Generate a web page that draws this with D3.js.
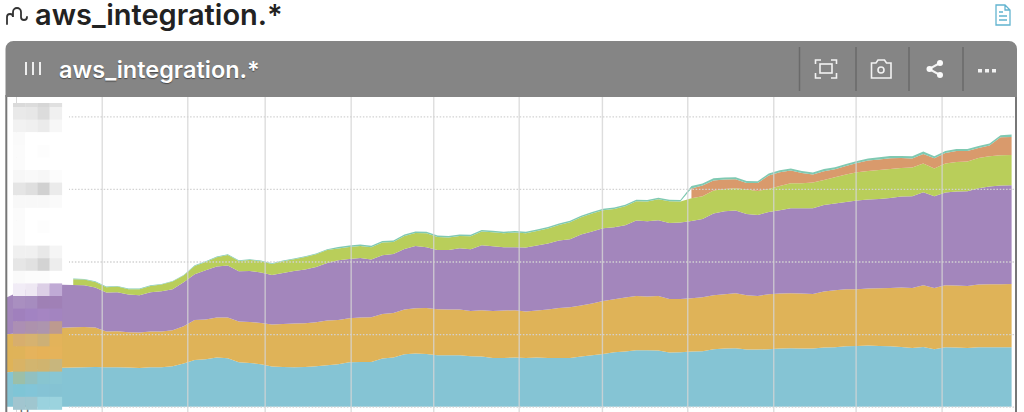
<!DOCTYPE html>
<html><head><meta charset="utf-8">
<script src="https://cdnjs.cloudflare.com/ajax/libs/d3/7.8.5/d3.min.js"></script>
<style>html,body{margin:0;padding:0;background:#fff;overflow:hidden}svg{display:block}text{font-family:Inter,"Open Sans",sans-serif}</style>
</head><body><svg id="c" width="1024" height="412"></svg>
<script>
const titleText = "aws_integration.*";
const blueVals = [34.5,35.5,36.5,37.5,38.5,39,39.2,39.5,39.8,39.5,39.5,39.2,38.8,39.5,39.5,40.5,43.2,46.8,47.5,49.2,48.5,44.5,43.8,42.5,40.2,39.8,39.5,39.8,40.5,41.5,42.5,44.5,44.8,44.8,48.2,49.2,52.5,53.2,52.8,51.5,51.5,51.5,50.5,50.2,48.8,48.8,49.2,48.8,49.2,48.8,48.8,48.8,50.2,51.5,52.8,54.5,55.2,56.5,56.5,56.2,54.2,54.5,55.2,55.5,57.5,58.2,58.5,57.2,57.2,57.5,58.2,58.5,58.2,58.2,59.2,59.5,60.5,60.8,61.2,60.8,60.5,59.8,58.8,59.8,57.5,59.5,59.2,58.8,59.5,59.5,59.5,59.5];
const orangeVals = [38,38,39,39,39.5,40,40.3,40.3,39.4,35.7,36,35.3,35.4,35.7,35.7,36,37.3,40,39.7,40,40.7,40.7,41,41.3,42,43,43.7,43.7,44,44.7,44.3,44,44.4,44.7,44.6,44.6,44.7,45.3,46,46,45.7,45.7,45.3,46.3,47,47.4,47.3,46.4,47,48.4,50,50.7,51,51.7,53,53,54,54.3,53.7,54.6,53.6,53.3,53.3,54,54,54.3,55,54.3,53.6,55,55,55,55,54.6,56,57,57,56.7,57,57.7,58.3,59.4,60,61.7,61.3,62,62,62,62.7,63,63,63.3];
const purpleVals = [37,41,43,44,43.5,43,42.3,41.7,40,39,39,37.7,37.3,39.3,40.3,41,44,45.7,49.3,51,52,50.3,51,50.4,49.6,51,52.6,53.7,55.3,57.6,59.7,59.3,59.6,57.7,58.7,59,60.6,62.3,60.7,59.3,59.6,61.3,61.7,65,64.7,63.3,63,64,65,66,67.4,68,71,72,72.7,72,72.3,75.4,75.3,75.7,76,76.4,77.3,78.3,81.7,83,82.7,81.3,81,82.3,83.3,85,85.3,85.7,86.6,86.7,87.3,88.7,89,89.3,90,91,91.7,93,91.7,92.7,94,94.7,96.3,97.7,98.7,98.7];
const greenVals = [null,null,null,null,null,null,5.7,5.7,5.6,5.3,5.7,5.3,6,6.3,6.7,7.7,6.7,8.3,8.3,9.3,10.6,10.3,11,11.3,11,11.7,11.7,12.6,12.7,13,11.7,12,12,12.3,12.7,12,13,13,14,13,12.4,12.3,13,13.7,14,14,14.7,14.3,14.6,15,15.6,17,17.3,18,18,18.3,19,19.3,19.7,21,21.7,21,22.7,22.7,23,22.3,22.3,24.4,24,23,24.3,25,25,25.7,25,26.3,27.4,28.3,28.6,29,29,28.6,28.7,28.7,27.7,29,29.6,29.7,30.3,30.3,30.3,30.3];
const salmonVals = [null,null,null,null,null,null,null,null,null,null,null,null,null,null,null,null,null,null,null,null,null,null,null,null,null,null,null,null,null,null,null,null,null,null,null,null,null,null,null,null,null,null,null,null,null,null,null,null,null,null,null,null,null,null,null,null,null,null,null,null,null,null,9.7,10.7,10,9.4,9,6.6,8,13.4,13.7,12.7,10.3,8,8.7,8,8.6,9.3,10.4,10.4,10.7,10,9,9.6,10.3,10.6,11,10.6,10,10.7,18,18];
const tealVals = [null,null,null,null,null,null,0.6,0.6,0.6,0.6,0.6,0.6,0.6,0.6,0.6,0.6,0.6,0.6,0.6,0.6,0.6,0.6,0.6,0.6,0.6,0.6,0.6,0.6,0.6,0.6,1.5,1.5,1.5,1.5,1.5,1.5,1.5,1.5,1.5,1.5,1.5,1.5,1.5,1.5,1.5,1.5,1.5,1.5,1.5,1.5,1.5,1.5,1.5,1.5,1.5,1.5,1.5,1.5,1.5,1.5,1.5,1.5,2.6,2,2.3,2,2,2,1.7,2,2,2,2,2,2.3,2,2,2,2,2.3,2.3,2,2.3,2.4,2,2,2,2,2,2,2,2.4];
const seriesKeys = ["blue","orange","purple","green","salmon","teal"];
const seriesColors = ["#85c4d4","#dfb358","#a386bc","#b9ce5a","#d99a6c","#7fc9b2"];
const yTicks = [0,72.6,145.2,217.8,290.4];
const xTicks = [8.58,16.33,23.34,31.13,38.61,46.35,53.89,61.62,69.41,76.87,84.66];
const separators = [799.5,856,909,963];
const mosaicRows = [
 ["#dadada","#dcdcdc","#d6d6d6","#e0e0e0"],
 ["#e9e9e9","#e7e7e7","#dcdcdc","#f0f0f0"],
 ["#f2f2f2","#f0f0f0","#ebebeb","#f7f7f7"],
 ["#fafafa","#ffffff","#ffffff","#ffffff"],
 ["#fbfbfb","#ffffff","#fdfdfd","#ffffff"],
 ["#fbfbfb","#ffffff","#ffffff","#ffffff"],
 ["#f7f7f7","#f9f9f9","#f7f7f7","#fcfcfc"],
 ["#e5e5e5","#dfdfdf","#d1d1d1","#ebebeb"],
 ["#f8f8f8","#f8f8f8","#f8f8f8","#fafafa"],
 ["#fbfbfb","#ffffff","#ffffff","#ffffff"],
 ["#fbfbfb","#ffffff","#fdfdfd","#ffffff"],
 ["#fbfbfb","#ffffff","#ffffff","#ffffff"],
 ["#f0f0f0","#f0f0f0","#e8e8e8","#f5f5f5"],
 ["#e6e6e6","#e1e1e1","#d3d3d3","#ededed"],
 ["#fafafa","#fcfcfc","#fcfcfc","#ffffff"],
 ["#f1ecf6","#eee8f3","#dccfe6","#c0aad5"],
 ["#a98fc0","#a68cbf","#9f80b5","#a080b6"],
 ["#a080bd","#a283c2","#a585c2","#a384c0"],
 ["#ac8fb4","#ad92ad","#ad95ae","#bd9a8f"],
 ["#d7ae6e","#d6b270","#cdb076","#e3b35a"],
 ["#dfb359","#e5b35c","#e6b258","#e5b35a"],
 ["#d9b365","#d2b56f","#d0b46f","#c8b67d"],
 ["#9cbfa8","#91c0c0","#88c5d0","#88c6d3"],
 ["#7fc5d6","#82c5d8","#85c3d5","#85c3d3"],
 ["#a1c5cf","#9fc6cf","#9ad2de","#9bd3de"]
];

const svg = d3.select("#c");
const rows = blueVals.map((_,i)=>({i,blue:blueVals[i],orange:orangeVals[i],purple:purpleVals[i],green:greenVals[i],salmon:salmonVals[i],teal:tealVals[i]}));
const x = d3.scaleLinear().domain([0,91]).range([7,1011.6]);
const y = d3.scaleLinear().domain([0,290.4]).range([406.7,116.3]);
const stacked = d3.stack().keys(seriesKeys).value((d,k)=>d[k]||0)(rows);
const area = d3.area().x(d=>x(d.data.i)).y0(d=>y(d[0])).y1(d=>y(d[1]));

// layers: each is drawn only where its own series exists
stacked.forEach((s,n)=>{
  const key = seriesKeys[n];
  svg.append("path").attr("d",area.defined(d=>d.data[key]!=null)(s)).attr("fill",seriesColors[n]);
});

// vertical grid
const gx = svg.append("g").attr("transform","translate(0,412)")
  .call(d3.axisBottom(x).tickValues(xTicks).tickSize(315).tickFormat(""));
gx.select(".domain").remove();
gx.selectAll("line").attr("y2",-315).attr("stroke","#d4d4d4").attr("stroke-opacity",.8).attr("stroke-width",1.4);

// horizontal dotted grid
const gy = svg.append("g").attr("transform","translate(1014,0)")
  .call(d3.axisLeft(y).tickValues(yTicks).tickSize(945).tickFormat(""));
gy.select(".domain").remove();
gy.selectAll("line").attr("stroke","#d2d2d2").attr("stroke-width",1.3).attr("stroke-dasharray","1.5 1.7");

// axis "0"
svg.append("line").attr("x1",16.5).attr("x2",16.5).attr("y1",97).attr("y2",412).attr("stroke","#d8d8d8");
svg.append("text").attr("x",24.5).attr("y",416).attr("text-anchor","middle").attr("font-size",15).attr("fill","#666").text(yTicks[0]);

// pixelated (redacted) tick labels
mosaicRows.forEach((r,ri)=>r.forEach((c,ci)=>{
  const top = ri===0?103:107+12.6*(ri-1), bot = 107+12.6*ri-(ri===0?12.6:0);
  svg.append("rect").attr("x",13+ci*12.2).attr("y",top).attr("width",12.5).attr("height",(ri===0?107:bot)-top+.4).attr("fill",c);
}));

// frame
svg.append("line").attr("x1",6.3).attr("x2",6.3).attr("y1",95).attr("y2",412).attr("stroke","#777").attr("stroke-width",2);
svg.append("line").attr("x1",1016).attr("x2",1016).attr("y1",95).attr("y2",412).attr("stroke","#777").attr("stroke-width",2);
svg.append("path").attr("d","M5.5 97V49a8 8 0 0 1 8-8H1009a8 8 0 0 1 8 8V97Z").attr("fill","#858585");

// titles
svg.append("text").attr("x",35).attr("y",25).attr("font-size",29).attr("font-weight",600).attr("fill","#222").text(titleText);
svg.append("text").attr("x",59).attr("y",78).attr("font-size",23.5).attr("font-weight",600).attr("fill","#fff").style("text-shadow","0 1px 1px rgba(0,0,0,.45)").text(titleText);

// header icons
svg.append("path").attr("d","M7 24V17a3 3 0 0 1 6 0v-5a4 4 0 0 1 8 0v5a3 3 0 0 0 6 0").attr("fill","none").attr("stroke","#333").attr("stroke-width",1.8).attr("stroke-linecap","round");
svg.append("path").attr("d","M996 5H1005L1010 10V25H996ZM1005 5V10H1010M999 12H1003M999 16H1007M999 20H1007").attr("fill","none").attr("stroke","#62b4d0").attr("stroke-width",1.3);
svg.append("path").attr("d","M26 62V75M33 62V75M40 62V75").attr("stroke","#eee").attr("stroke-width",2).attr("fill","none");
separators.forEach(s=>svg.append("line").attr("x1",s).attr("x2",s).attr("y1",47).attr("y2",91).attr("stroke","#6a6a6a").attr("stroke-width",1.5));
const ic = svg.append("g").attr("fill","none").attr("stroke","#f2f2f2").attr("stroke-width",1.6);
ic.append("path").attr("d","M815.5 64V60H821M831 60H836.5V64M815.5 73V78H821M831 78H836.5V73");
ic.append("rect").attr("x",820).attr("y",64).attr("width",12).attr("height",9);
ic.append("path").attr("d","M871.5 63H876L878 60H884.5L886.5 63H891V78H871.5Z");
ic.append("circle").attr("cx",881).attr("cy",70).attr("r",3);
ic.append("path").attr("d","M940 63L929 69L940 75").attr("stroke-width",2);
[[940,63],[929.5,69],[940,75]].forEach(p=>svg.append("circle").attr("cx",p[0]).attr("cy",p[1]).attr("r",3).attr("fill","#fafafa"));
[980,987,994].forEach(c=>svg.append("rect").attr("x",c-2).attr("y",69).attr("width",4).attr("height",3.5).attr("fill","#f2f2f2"));
</script></body></html>
